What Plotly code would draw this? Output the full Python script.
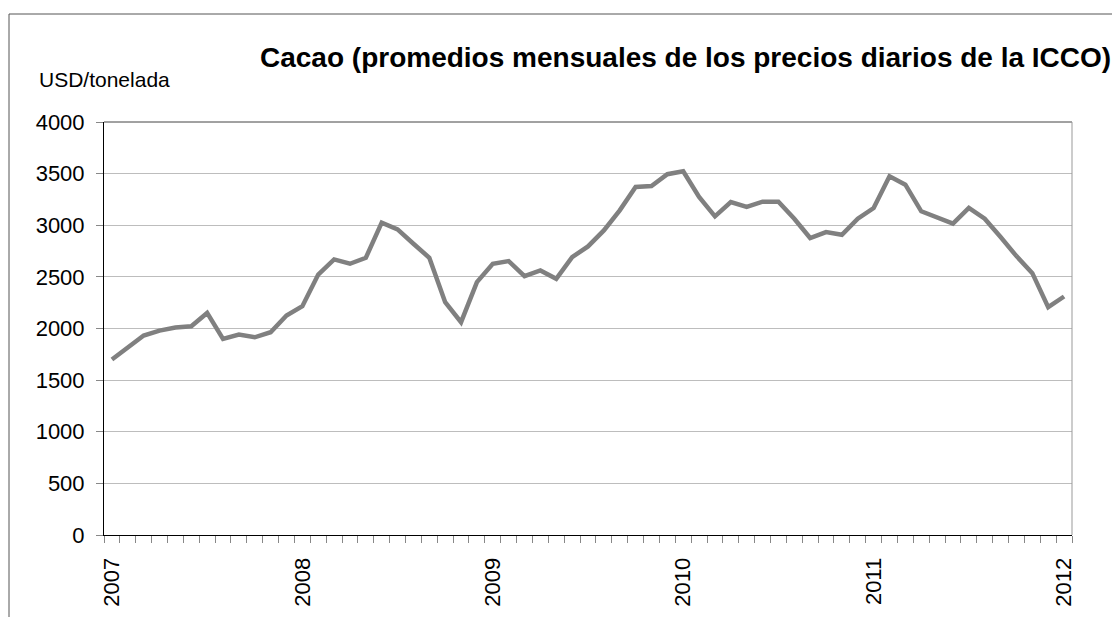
import plotly.graph_objects as go

# Monthly categories Jan 2007 .. Jan 2012
months = [f"{y}-{m:02d}" for y in range(2007, 2012) for m in range(1, 13)] + ["2012-01"]
prices = [
    1700, 1820, 1932, 1980, 2009, 2022, 2151, 1899, 1941, 1915, 1964, 2126,
    2216, 2523, 2669, 2627, 2685, 3025, 2960, 2821, 2685, 2255, 2061, 2449,
    2627, 2653, 2507, 2562, 2481, 2691, 2795, 2950, 3144, 3371, 3380, 3494,
    3523, 3274, 3086, 3225, 3177, 3228, 3228, 3063, 2876, 2934, 2908, 3063,
    3167, 3474, 3393, 3135, 3080, 3015, 3167, 3063, 2886, 2701, 2536, 2206,
    2310,
]
year_labels = ["2007", "2008", "2009", "2010", "2011", "2012"]
y_ticks = [0, 500, 1000, 1500, 2000, 2500, 3000, 3500, 4000]

title_text = "Cacao (promedios mensuales de los precios diarios de la ICCO)"
unit_text = "USD/tonelada"

xpos = list(range(len(months)))
year_pos = [i for i, m in enumerate(months) if m.endswith("-01")]

FONT = "Liberation Sans, Arial, sans-serif"

fig = go.Figure()
fig.add_trace(go.Scatter(
    x=xpos, y=prices, mode="lines",
    line=dict(color="#808080", width=4.5),
    hoverinfo="skip", showlegend=False,
))

# page body has an 8px margin; work in screen pixels and offset
OFF = 8
W, H = 1120 - OFF, 617 - OFF
L, R, T, B = 104, 1072, 122, 535
pw, ph = R - L, B - T

def px(x):
    return (x - L) / pw

def py(y):
    return (B - y) / ph

fig.update_layout(
    width=W, height=H,
    margin=dict(l=L - OFF, r=1120 - R, t=T - OFF, b=617 - B, autoexpand=False),
    paper_bgcolor="white", plot_bgcolor="white",
    font=dict(family=FONT, color="black"),
    xaxis=dict(
        range=[-0.5, len(months) - 0.5],
        tickmode="array", tickvals=year_pos, ticktext=year_labels,
        ticks="", tickangle=-90,
        tickfont=dict(size=22, family=FONT, color="black"),
        ticklabelstandoff=13,
        showgrid=False, zeroline=False,
        showline=True, linecolor="black", linewidth=1,
        minor=dict(
            tickmode="array",
            tickvals=[k - 0.5 for k in range(len(months) + 1)],
            ticks="outside", ticklen=7, tickcolor="#888888", tickwidth=1,
            showgrid=False,
        ),
    ),
    yaxis=dict(
        range=[0, 4000],
        tickmode="array", tickvals=y_ticks,
        ticks="outside", ticklen=7, tickcolor="#888888",
        tickfont=dict(size=22, family=FONT, color="black"),
        ticklabelstandoff=7,
        showgrid=True, gridcolor="#bdbdbd", gridwidth=1,
        zeroline=False,
        showline=True, linecolor="black", linewidth=1,
    ),
    annotations=[
        dict(
            text="<b>" + title_text + "</b>", xref="paper", yref="paper",
            x=px(685.5), y=py(58), xanchor="center", yanchor="middle",
            showarrow=False, font=dict(family=FONT, size=28, color="black"),
        ),
        dict(
            text=unit_text, xref="paper", yref="paper",
            x=px(37), y=py(79), xanchor="left", yanchor="middle",
            showarrow=False, font=dict(family=FONT, size=21, color="black"),
        ),
    ],
    shapes=[
        # outer chart frame (top and left)
        dict(type="line", xref="paper", yref="paper",
             x0=px(9), x1=px(1125), y0=py(14), y1=py(14),
             line=dict(color="#555555", width=1)),
        dict(type="line", xref="paper", yref="paper",
             x0=px(9), x1=px(9), y0=py(14), y1=py(625),
             line=dict(color="#555555", width=1)),
        # plot-area top and right borders
        dict(type="line", xref="paper", yref="paper",
             x0=0, x1=1, y0=1, y1=1,
             line=dict(color="#444444", width=1)),
        dict(type="line", xref="paper", yref="paper",
             x0=1, x1=1, y0=0, y1=1,
             line=dict(color="#999999", width=1)),
    ],
)

fig.write_html("out.html")
